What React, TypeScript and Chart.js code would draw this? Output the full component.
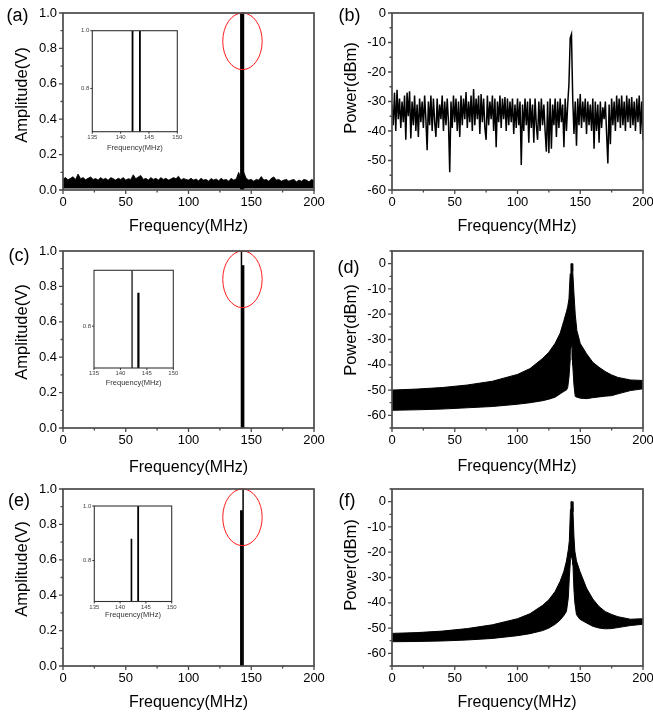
import React, { useEffect, useRef } from "react";
import { Chart, registerables } from "chart.js";

Chart.register(...registerables);

// ---------------- data ----------------
const freqTicks = [0, 50, 100, 150, 200];
const freqMinor = [25, 75, 125, 175];
const ampTicks = [0, 0.2, 0.4, 0.6, 0.8, 1.0];
const ampMinor = [0.1, 0.3, 0.5, 0.7, 0.9];
const powerTicks = [-60, -50, -40, -30, -20, -10, 0];
const powerMinorB = [-55, -45, -35, -25, -15, -5];
const powerMinorDF = [-65, -55, -45, -35, -25, -15, -5, 5];
const insetFreqTicks = [135, 140, 145, 150];
const insetAmpTicks = [0.8, 1.0];
const insetAmpTicksC = [0.8];

// (a) noise floor (upper edge), one value every 2 MHz, 0..200 MHz
const noiseStepA = 2;
const noiseFloorA = 0.008;
const noiseA = [
  0.062, 0.07, 0.058, 0.066, 0.075, 0.06, 0.09, 0.064, 0.07, 0.058,
  0.066, 0.074, 0.06, 0.065, 0.056, 0.07, 0.06, 0.066, 0.055, 0.07,
  0.064, 0.056, 0.066, 0.06, 0.07, 0.056, 0.064, 0.06, 0.086, 0.064,
  0.074, 0.082, 0.06, 0.066, 0.056, 0.07, 0.06, 0.066, 0.056, 0.07,
  0.06, 0.066, 0.056, 0.062, 0.07, 0.064, 0.078, 0.056, 0.065, 0.06,
  0.056, 0.066, 0.056, 0.062, 0.052, 0.066, 0.056, 0.06, 0.05, 0.065,
  0.056, 0.062, 0.052, 0.066, 0.056, 0.06, 0.05, 0.066, 0.056, 0.062,
  0.1, 0.06, 0.1, 0.066, 0.056, 0.06, 0.05, 0.06, 0.056, 0.076,
  0.056, 0.06, 0.05, 0.066, 0.074, 0.056, 0.06, 0.05, 0.056, 0.06,
  0.05, 0.056, 0.06, 0.046, 0.056, 0.05, 0.06, 0.056, 0.046, 0.06, 0.054,
];

// spectral lines (MHz, V)
const linesFreqA = [142.1, 143.4];
const linesAmpA = [1.0, 1.0];
const linesFreqC = [142.2, 143.4];
const linesAmpC = [1.0, 0.92];
const linesFreqE = [142.2, 143.5];
const linesAmpE = [0.88, 1.0];

// (b) power spectrum, one value per MHz, 0..200 MHz (dBm)
const powerB = [
  -31, -38, -27, -40, -26, -36, -29, -39, -30, -37,
  -28, -43, -27, -35, -26.5, -42.5, -30, -38, -28, -40,
  -31, -42, -29, -37, -30, -39, -28, -36, -46.5, -30,
  -38, -28, -40, -29, -37, -42, -29, -39, -31, -36,
  -28, -40, -30, -38, -29, -37, -54, -30, -39, -28,
  -37, -29, -40, -30, -42, -28, -38, -29, -36, -26.8,
  -39, -30, -37, -28, -40, -25.8, -38, -29, -36, -28,
  -41, -27.5, -37, -29, -39, -43, -28, -38, -30, -36,
  -28, -40, -29, -45.5, -30, -37, -28, -39, -29, -36,
  -28.5, -40, -29, -38, -30, -37, -29, -41, -31, -39,
  -29, -38, -30, -51.5, -31, -40, -29, -38, -30, -44,
  -29, -39, -31, -44, -29, -38, -43, -30, -40, -29,
  -38, -31, -40, -47, -30, -47.5, -29, -46, -31, -38,
  -29, -42, -30, -39, -29, -37, -31, -45.5, -29, -40,
  -31, -24, -8.5, -7.2, -29, -41, -30, -45, -29, -38,
  -27.5, -39, -30, -37, -29, -41, -30, -38, -31, -40,
  -29, -46, -30, -40, -31, -44, -30, -39, -32, -36,
  -30, -41, -51, -31, -44.5, -29, -38, -30, -40, -28,
  -37, -29, -39, -28, -38, -30, -40, -28, -37, -29,
  -39, -28.5, -38, -30, -40, -29, -37, -28, -41, -30, -43,
];

// (d) envelope of the dense spectrum (dBm)
const envFreqD = [0, 20, 40, 60, 80, 100, 110, 120, 125, 130, 134, 137, 139, 140, 141, 142, 142.6, 142.8, 143.4, 143.6, 144, 145, 146, 147.3, 150, 155, 160, 165, 170, 175, 180, 190, 200];
const envUpperD = [-50, -49.6, -49, -48, -46.5, -43.8, -41.5, -37.5, -35, -31.5, -27.5, -22.5, -19, -17, -14, -4, 0, 0, 0, 0, -3, -12, -20, -26.4, -31.6, -35.6, -39, -41, -42.7, -44, -45, -46, -46.2];
const envLowerD = [-58, -57.8, -57.5, -57, -56.5, -55.6, -55, -54.2, -53.6, -52.8, -51.5, -50.5, -50, -49, -45, -38, -33, -32, -32, -34, -40, -48, -52.5, -52.8, -53.2, -53.4, -53, -52.7, -52.4, -52.2, -51.5, -50.2, -49.5];

// (f) envelope of the dense spectrum (dBm)
const envFreqF = [0, 20, 40, 60, 80, 100, 110, 120, 125, 130, 134, 137, 139, 140.5, 141.3, 142.2, 142.6, 143.6, 144.2, 145, 145.7, 147, 149.7, 155, 160, 165, 170, 175, 180, 190, 200];
const envUpperF = [-52.1, -51.8, -51.2, -50.2, -48.7, -46.3, -44.3, -41, -38.8, -35.5, -31.5, -27.5, -23.5, -19, -15.5, -3, 0, 0, -4, -14, -19.6, -23.5, -27.5, -34.2, -38.5, -41.5, -43.5, -44.6, -45.5, -46.5, -46.3];
const envLowerF = [-55.4, -55.3, -55.1, -54.7, -54.1, -53, -52.2, -51, -50, -48.5, -46.8, -45, -43.4, -38, -30, -23, -22, -22, -25, -35, -40, -44.7, -46.5, -48, -49.3, -50, -50.3, -50.2, -49.8, -49, -48.5];

// red marker ellipse (data units)
const markFreq = 143;
const markAmp = 0.84;
const markHalfFreq = 15.7;
const markHalfAmp = 0.16;

// ---------------- drawing ----------------
const FONT = "Arial, 'Liberation Sans', Helvetica, sans-serif";

type Rect = { x: number; y: number; w: number; h: number };
type Area = { l: number; t: number; r: number; b: number };
type Axis = { min: number; max: number; major: number[]; minor: number[]; fmt: (v: number) => string };
type Label = { text: string; x: number; y: number; size: number; rotate?: boolean; color?: string };
type PanelDef = {
  key: string;
  canvas: Rect;
  area: Area;
  x: Axis;
  y: Axis;
  datasets: any[];
  tickSize: number;
  tickColor: string;
  xPad: number;
  yPad: number;
  frameColor: string;
  frameWidth: number;
  majorLen: number;
  minorLen: number;
  labels: Label[];
  ellipse?: boolean;
};

const fmt1 = (v: number) => v.toFixed(1);
const fmt0 = (v: number) => String(Math.round(v));

function makeChart(canvas: HTMLCanvasElement, d: PanelDef) {
  const deco = {
    id: "deco_" + d.key,
    afterDraw(chart: any) {
      const { ctx, chartArea: a, scales } = chart;
      const xs = scales.x;
      const ys = scales.y;
      ctx.save();
      if (d.ellipse) {
        const cx = xs.getPixelForValue(markFreq);
        const cy = ys.getPixelForValue(markAmp);
        const rx = Math.abs(xs.getPixelForValue(markFreq + markHalfFreq) - cx);
        const ry = Math.abs(ys.getPixelForValue(markAmp + markHalfAmp) - cy);
        ctx.beginPath();
        ctx.ellipse(cx, cy, rx, ry, 0, 0, Math.PI * 2);
        ctx.strokeStyle = "#ff1a1a";
        ctx.lineWidth = 1;
        ctx.stroke();
      }
      ctx.strokeStyle = d.frameColor;
      ctx.lineWidth = d.frameWidth;
      ctx.strokeRect(a.left, a.top, a.right - a.left, a.bottom - a.top);
      ctx.beginPath();
      const xt = (vals: number[], len: number) => {
        vals.forEach((v) => {
          const p = xs.getPixelForValue(v);
          ctx.moveTo(p, a.bottom);
          ctx.lineTo(p, a.bottom + len);
        });
      };
      const yt = (vals: number[], len: number) => {
        vals.forEach((v) => {
          const p = ys.getPixelForValue(v);
          ctx.moveTo(a.left, p);
          ctx.lineTo(a.left - len, p);
        });
      };
      xt(d.x.major, d.majorLen);
      xt(d.x.minor, d.minorLen);
      yt(d.y.major, d.majorLen);
      yt(d.y.minor, d.minorLen);
      ctx.lineWidth = Math.max(1, d.frameWidth - 0.4);
      ctx.stroke();
      d.labels.forEach((l) => {
        ctx.save();
        ctx.font = `${l.size}px ${FONT}`;
        ctx.fillStyle = l.color || "#000";
        ctx.textAlign = "center";
        ctx.textBaseline = "middle";
        ctx.translate(l.x - d.canvas.x, l.y - d.canvas.y);
        if (l.rotate) ctx.rotate(-Math.PI / 2);
        ctx.fillText(l.text, 0, 0);
        ctx.restore();
      });
      ctx.restore();
    },
  };

  const axisOpts = (ax: Axis, isX: boolean) => ({
    type: "linear",
    min: ax.min,
    max: ax.max,
    grid: { display: false, drawTicks: false },
    border: { display: false },
    afterBuildTicks: (s: any) => {
      s.ticks = ax.major.map((v) => ({ value: v }));
    },
    afterFit: (s: any) => {
      if (isX) s.height = d.canvas.y + d.canvas.h - d.area.b;
      else s.width = d.area.l - d.canvas.x;
      s.paddingLeft = 0;
      s.paddingRight = 0;
      s.paddingTop = 0;
      s.paddingBottom = 0;
    },
    ticks: {
      autoSkip: false,
      maxRotation: 0,
      minRotation: 0,
      padding: isX ? d.xPad : d.yPad,
      color: d.tickColor,
      font: { family: FONT, size: d.tickSize },
      callback: (v: any) => ax.fmt(Number(v)),
    },
  });

  return new Chart(canvas, {
    type: "line",
    data: { datasets: d.datasets },
    options: {
      responsive: false,
      animation: false,
      devicePixelRatio: 1,
      events: [],
      layout: {
        padding: {
          left: 0,
          top: d.area.t - d.canvas.y,
          right: d.canvas.x + d.canvas.w - d.area.r,
          bottom: 0,
        },
      },
      plugins: { legend: { display: false }, tooltip: { enabled: false }, title: { display: false } },
      scales: { x: axisOpts(d.x, true) as any, y: axisOpts(d.y, false) as any },
      elements: { point: { radius: 0 }, line: { tension: 0 } },
    } as any,
    plugins: [deco],
  });
}

function Panel({ def }: { def: PanelDef }) {
  const ref = useRef<HTMLCanvasElement>(null);
  useEffect(() => {
    const c = makeChart(ref.current as HTMLCanvasElement, def);
    return () => c.destroy();
  }, []);
  return (
    <canvas
      ref={ref}
      width={def.canvas.w}
      height={def.canvas.h}
      style={{ position: "absolute", left: def.canvas.x, top: def.canvas.y, width: def.canvas.w, height: def.canvas.h }}
    />
  );
}

// ---------------- dataset builders ----------------
const lineSets = (freqs: number[], amps: number[], widths: number[]) =>
  freqs.map((f, i) => ({
    data: [
      { x: f, y: 0 },
      { x: f, y: amps[i] },
    ],
    borderColor: "#000",
    borderWidth: widths[i],
    borderCapStyle: "butt",
    pointRadius: 0,
    fill: false,
  }));

const noiseSetA = {
  data: noiseA.map((v, i) => ({ x: i * noiseStepA, y: v })),
  borderColor: "#000",
  borderWidth: 0.8,
  backgroundColor: "#000",
  pointRadius: 0,
  fill: { value: noiseFloorA },
};

const powerSetB = {
  data: powerB.map((v, i) => ({ x: i, y: v })),
  borderColor: "#000",
  borderWidth: 1.5,
  pointRadius: 0,
  fill: false,
};

const envSets = (fr: number[], up: number[], lo: number[]) => [
  {
    data: fr.map((f, i) => ({ x: f, y: up[i] })),
    borderColor: "#000",
    borderWidth: 1,
    backgroundColor: "#000",
    pointRadius: 0,
    fill: "+1",
  },
  {
    data: fr.map((f, i) => ({ x: f, y: lo[i] })),
    borderColor: "#000",
    borderWidth: 1,
    pointRadius: 0,
    fill: false,
  },
];

// ---------------- panel layout ----------------
const freqAxis: Axis = { min: 0, max: 200, major: freqTicks, minor: freqMinor, fmt: fmt0 };
const ampAxis: Axis = { min: 0, max: 1, major: ampTicks, minor: ampMinor, fmt: fmt1 };
const powerAxisB: Axis = { min: -60, max: 0, major: powerTicks, minor: powerMinorB, fmt: fmt0 };
const powerAxisDF: Axis = { min: -65, max: 5, major: powerTicks, minor: powerMinorDF, fmt: fmt0 };
const insetFreqAxis: Axis = { min: 135, max: 150, major: insetFreqTicks, minor: [], fmt: fmt0 };
const insetAmpAxis: Axis = { min: 0.65, max: 1.0, major: insetAmpTicks, minor: [], fmt: fmt1 };
const insetAmpAxisC: Axis = { min: 0.65, max: 1.0, major: insetAmpTicksC, minor: [], fmt: fmt1 };

const mainStyle = {
  tickSize: 13,
  tickColor: "#000",
  xPad: 5,
  yPad: 6,
  frameColor: "#4a4a4a",
  frameWidth: 1.7,
  majorLen: 4,
  minorLen: 2.5,
};
const insetStyle = {
  tickSize: 6,
  tickColor: "#444",
  xPad: 2,
  yPad: 3,
  frameColor: "#333",
  frameWidth: 1.1,
  majorLen: 2,
  minorLen: 1,
};

const TS = 18;
const YS = 16.5;
const XS = 16;

const panels: PanelDef[] = [
  {
    key: "a",
    canvas: { x: 0, y: 0, w: 326, h: 238 },
    area: { l: 63, t: 13, r: 314, b: 190 },
    x: freqAxis,
    y: ampAxis,
    datasets: [noiseSetA, ...lineSets(linesFreqA, linesAmpA, [2.5, 2.5])],
    ellipse: true,
    ...mainStyle,
    labels: [
      { text: "(a)", x: 17.5, y: 16.5, size: TS },
      { text: "Amplitude(V)", x: 22, y: 95, size: YS, rotate: true },
      { text: "Frequency(MHz)", x: 188.5, y: 226.5, size: XS },
    ],
  },
  {
    key: "b",
    canvas: { x: 326, y: 0, w: 327, h: 238 },
    area: { l: 392, t: 13, r: 643, b: 190 },
    x: freqAxis,
    y: powerAxisB,
    datasets: [powerSetB],
    ...mainStyle,
    labels: [
      { text: "(b)", x: 349.5, y: 16, size: TS },
      { text: "Power(dBm)", x: 351, y: 88, size: YS, rotate: true },
      { text: "Frequency(MHz)", x: 517, y: 226.5, size: XS },
    ],
  },
  {
    key: "c",
    canvas: { x: 0, y: 238, w: 326, h: 237 },
    area: { l: 63, t: 251, r: 314, b: 428 },
    x: freqAxis,
    y: ampAxis,
    datasets: lineSets(linesFreqC, linesAmpC, [1.5, 2.8]),
    ellipse: true,
    ...mainStyle,
    labels: [
      { text: "(c)", x: 19, y: 256.5, size: TS },
      { text: "Amplitude(V)", x: 22, y: 332, size: YS, rotate: true },
      { text: "Frequency(MHz)", x: 188.5, y: 467.5, size: XS },
    ],
  },
  {
    key: "d",
    canvas: { x: 326, y: 238, w: 327, h: 237 },
    area: { l: 392, t: 251, r: 643, b: 428 },
    x: freqAxis,
    y: powerAxisDF,
    datasets: envSets(envFreqD, envUpperD, envLowerD),
    ...mainStyle,
    labels: [
      { text: "(d)", x: 348.5, y: 268, size: TS },
      { text: "Power(dBm)", x: 351, y: 330, size: YS, rotate: true },
      { text: "Frequency(MHz)", x: 517, y: 467, size: XS },
    ],
  },
  {
    key: "e",
    canvas: { x: 0, y: 475, w: 326, h: 238 },
    area: { l: 63, t: 489, r: 314, b: 666 },
    x: freqAxis,
    y: ampAxis,
    datasets: lineSets(linesFreqE, linesAmpE, [2.8, 1.5]),
    ellipse: true,
    ...mainStyle,
    labels: [
      { text: "(e)", x: 19, y: 501.5, size: TS },
      { text: "Amplitude(V)", x: 22, y: 569, size: YS, rotate: true },
      { text: "Frequency(MHz)", x: 188.5, y: 702.5, size: XS },
    ],
  },
  {
    key: "f",
    canvas: { x: 326, y: 475, w: 327, h: 238 },
    area: { l: 392, t: 489, r: 643, b: 666 },
    x: freqAxis,
    y: powerAxisDF,
    datasets: envSets(envFreqF, envUpperF, envLowerF),
    ...mainStyle,
    labels: [
      { text: "(f)", x: 347, y: 501, size: TS },
      { text: "Power(dBm)", x: 351, y: 565, size: YS, rotate: true },
      { text: "Frequency(MHz)", x: 517, y: 702.5, size: XS },
    ],
  },
  // insets
  {
    key: "ia",
    canvas: { x: 70, y: 22, w: 115, h: 134 },
    area: { l: 92.3, t: 30.7, r: 177.3, b: 131.7 },
    x: insetFreqAxis,
    y: insetAmpAxis,
    datasets: lineSets(linesFreqA, linesAmpA, [1.8, 1.8]),
    ...insetStyle,
    labels: [{ text: "Frequency(MHz)", x: 134.8, y: 147.7, size: 7.5, color: "#333" }],
  },
  {
    key: "ic",
    canvas: { x: 70, y: 262, w: 112, h: 128 },
    area: { l: 94, t: 270.3, r: 173.3, b: 368 },
    x: insetFreqAxis,
    y: insetAmpAxisC,
    datasets: lineSets(linesFreqC, linesAmpC, [1.2, 2.2]),
    ...insetStyle,
    labels: [{ text: "Frequency(MHz)", x: 133.7, y: 382.5, size: 7.5, color: "#333" }],
  },
  {
    key: "ie",
    canvas: { x: 70, y: 498, w: 110, h: 126 },
    area: { l: 94.3, t: 506, r: 171.7, b: 601.5 },
    x: insetFreqAxis,
    y: insetAmpAxis,
    datasets: lineSets(linesFreqE, linesAmpE, [1.6, 1.8]),
    ...insetStyle,
    labels: [{ text: "Frequency(MHz)", x: 133, y: 615, size: 7.5, color: "#333" }],
  },
];

export default function App() {
  return (
    <div
      style={{
        position: "absolute",
        left: 0,
        top: 0,
        width: 653,
        height: 713,
        background: "#fff",
        overflow: "hidden",
      }}
    >
      {panels.map((p) => (
        <Panel key={p.key} def={p} />
      ))}
    </div>
  );
}
